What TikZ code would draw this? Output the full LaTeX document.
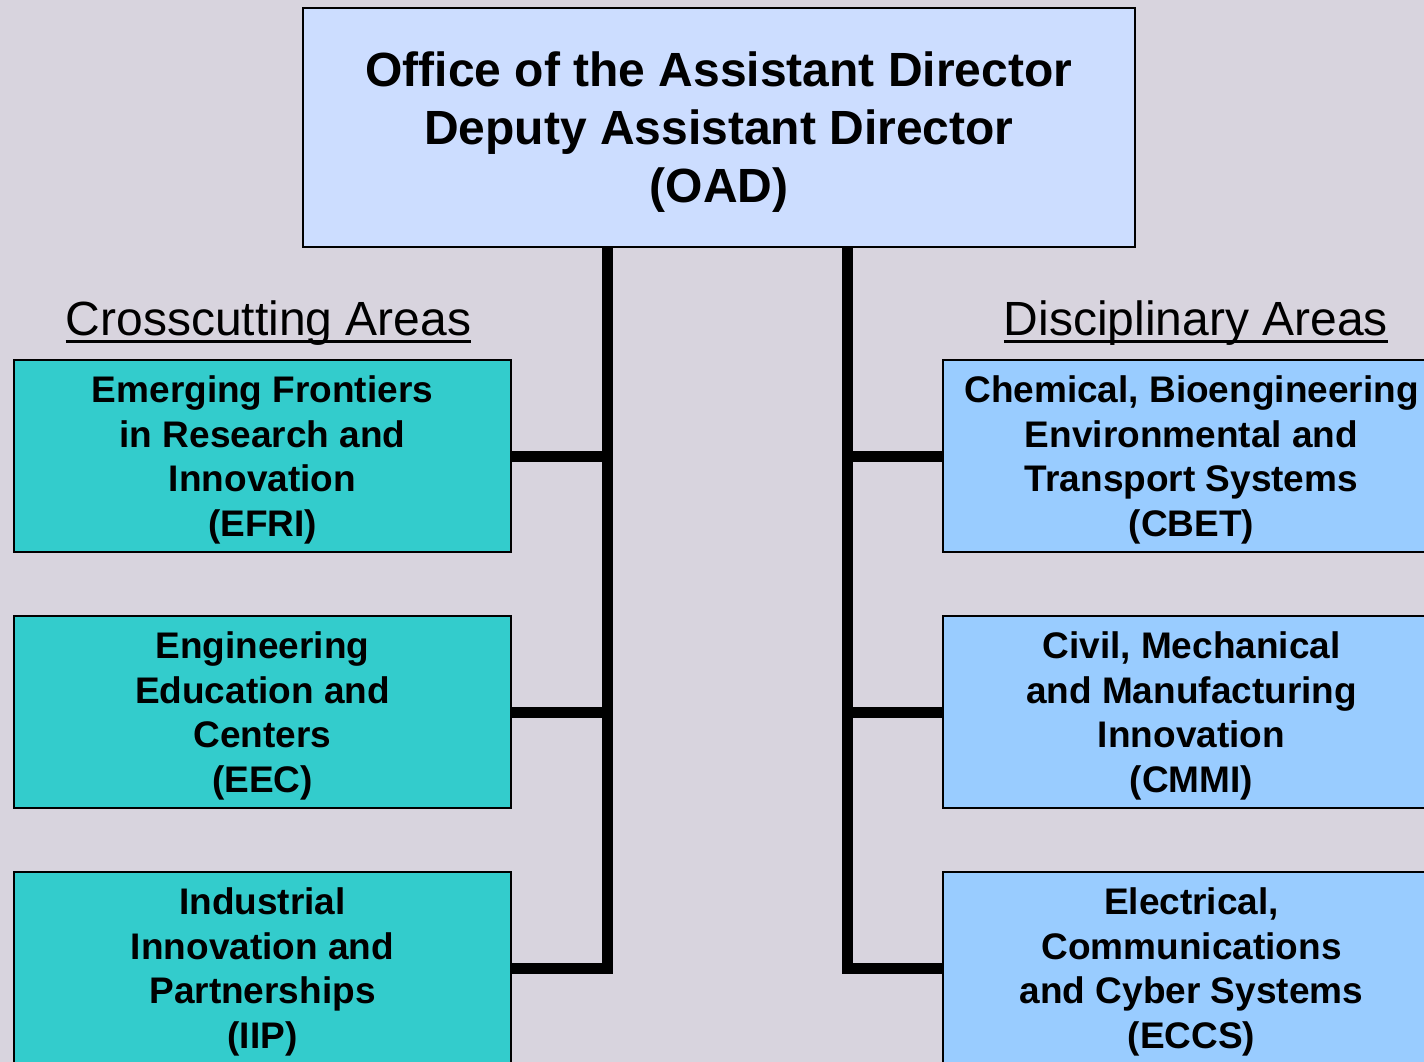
\documentclass[tikz,border=0pt]{standalone}
\usepackage{fontspec}
\setmainfont{Liberation Sans}
\usetikzlibrary{positioning,calc}

\definecolor{bgmauve}{RGB}{216,212,222}
\definecolor{oadblue}{RGB}{204,221,255}
\definecolor{crossteal}{RGB}{51,204,204}
\definecolor{discblue}{RGB}{153,204,255}

\begin{document}
\begin{tikzpicture}[
    x=1pt, y=-1pt,
    node distance=62pt,
    office/.style={rectangle, draw, line width=2pt, fill=oadblue, inner sep=0pt, text depth=0pt, minimum width=832pt, minimum height=239pt, align=center, font=\fontsize{48}{58}\selectfont\bfseries},
    unit/.style={rectangle, draw, line width=2pt, inner sep=0pt, text depth=0pt, minimum width=497pt, minimum height=192pt, align=center, font=\fontsize{37}{44.5}\selectfont\bfseries},
    cross/.style={unit, fill=crossteal},
    disc/.style={unit, fill=discblue},
    area/.style={inner sep=0pt, anchor=base, font=\fontsize{48}{58}\selectfont},
    link/.style={line width=11pt}
]

% Page and background
\useasboundingbox (0,0) rectangle (1424,1062);
\clip (0,0) rectangle (1424,1062);
\fill[bgmauve] (0,0) rectangle (1424,1062);

% Top office
\node[office] (oad) at (719,127.5) {Office of the Assistant Director\\Deputy Assistant Director\\(OAD)};

% Crosscutting areas
\node[cross] (efri) at (262.5,456) {Emerging Frontiers\\in Research and\\Innovation\\(EFRI)};
\node[cross, below=of efri] (eec) {Engineering\\Education and\\Centers\\(EEC)};
\node[cross, below=of eec] (iip) {Industrial\\Innovation and\\Partnerships\\(IIP)};

% Disciplinary areas
\node[disc, right=430pt of efri] (cbet) {Chemical, Bioengineering\\Environmental and\\Transport Systems\\(CBET)};
\node[disc, below=of cbet] (cmmi) {Civil, Mechanical\\and Manufacturing\\Innovation\\(CMMI)};
\node[disc, below=of cmmi] (eccs) {Electrical,\\Communications\\and Cyber Systems\\(ECCS)};

% Headings
\node[area] (hcross) at (268.5,335) {Crosscutting Areas};
\node[area] (hdisc) at (1196,335) {Disciplinary Areas};
\draw[line width=3pt] ($(hcross.base west)+(0,6.5)$) -- ($(hcross.base east)+(0,6.5)$);
\draw[line width=3pt] ($(hdisc.base west)+(0,6.5)$) -- ($(hdisc.base east)+(0,6.5)$);

% Spines
\coordinate (lspine) at (607,968);
\coordinate (rspine) at (847,968);

\draw[link] (oad.south -| lspine) -- (lspine) -- (iip.east);
\draw[link] (efri.east) -- (efri.east -| lspine);
\draw[link] (eec.east) -- (eec.east -| lspine);

\draw[link] (oad.south -| rspine) -- (rspine) -- (eccs.west);
\draw[link] (cbet.west) -- (cbet.west -| rspine);
\draw[link] (cmmi.west) -- (cmmi.west -| rspine);

\end{tikzpicture}
\end{document}
